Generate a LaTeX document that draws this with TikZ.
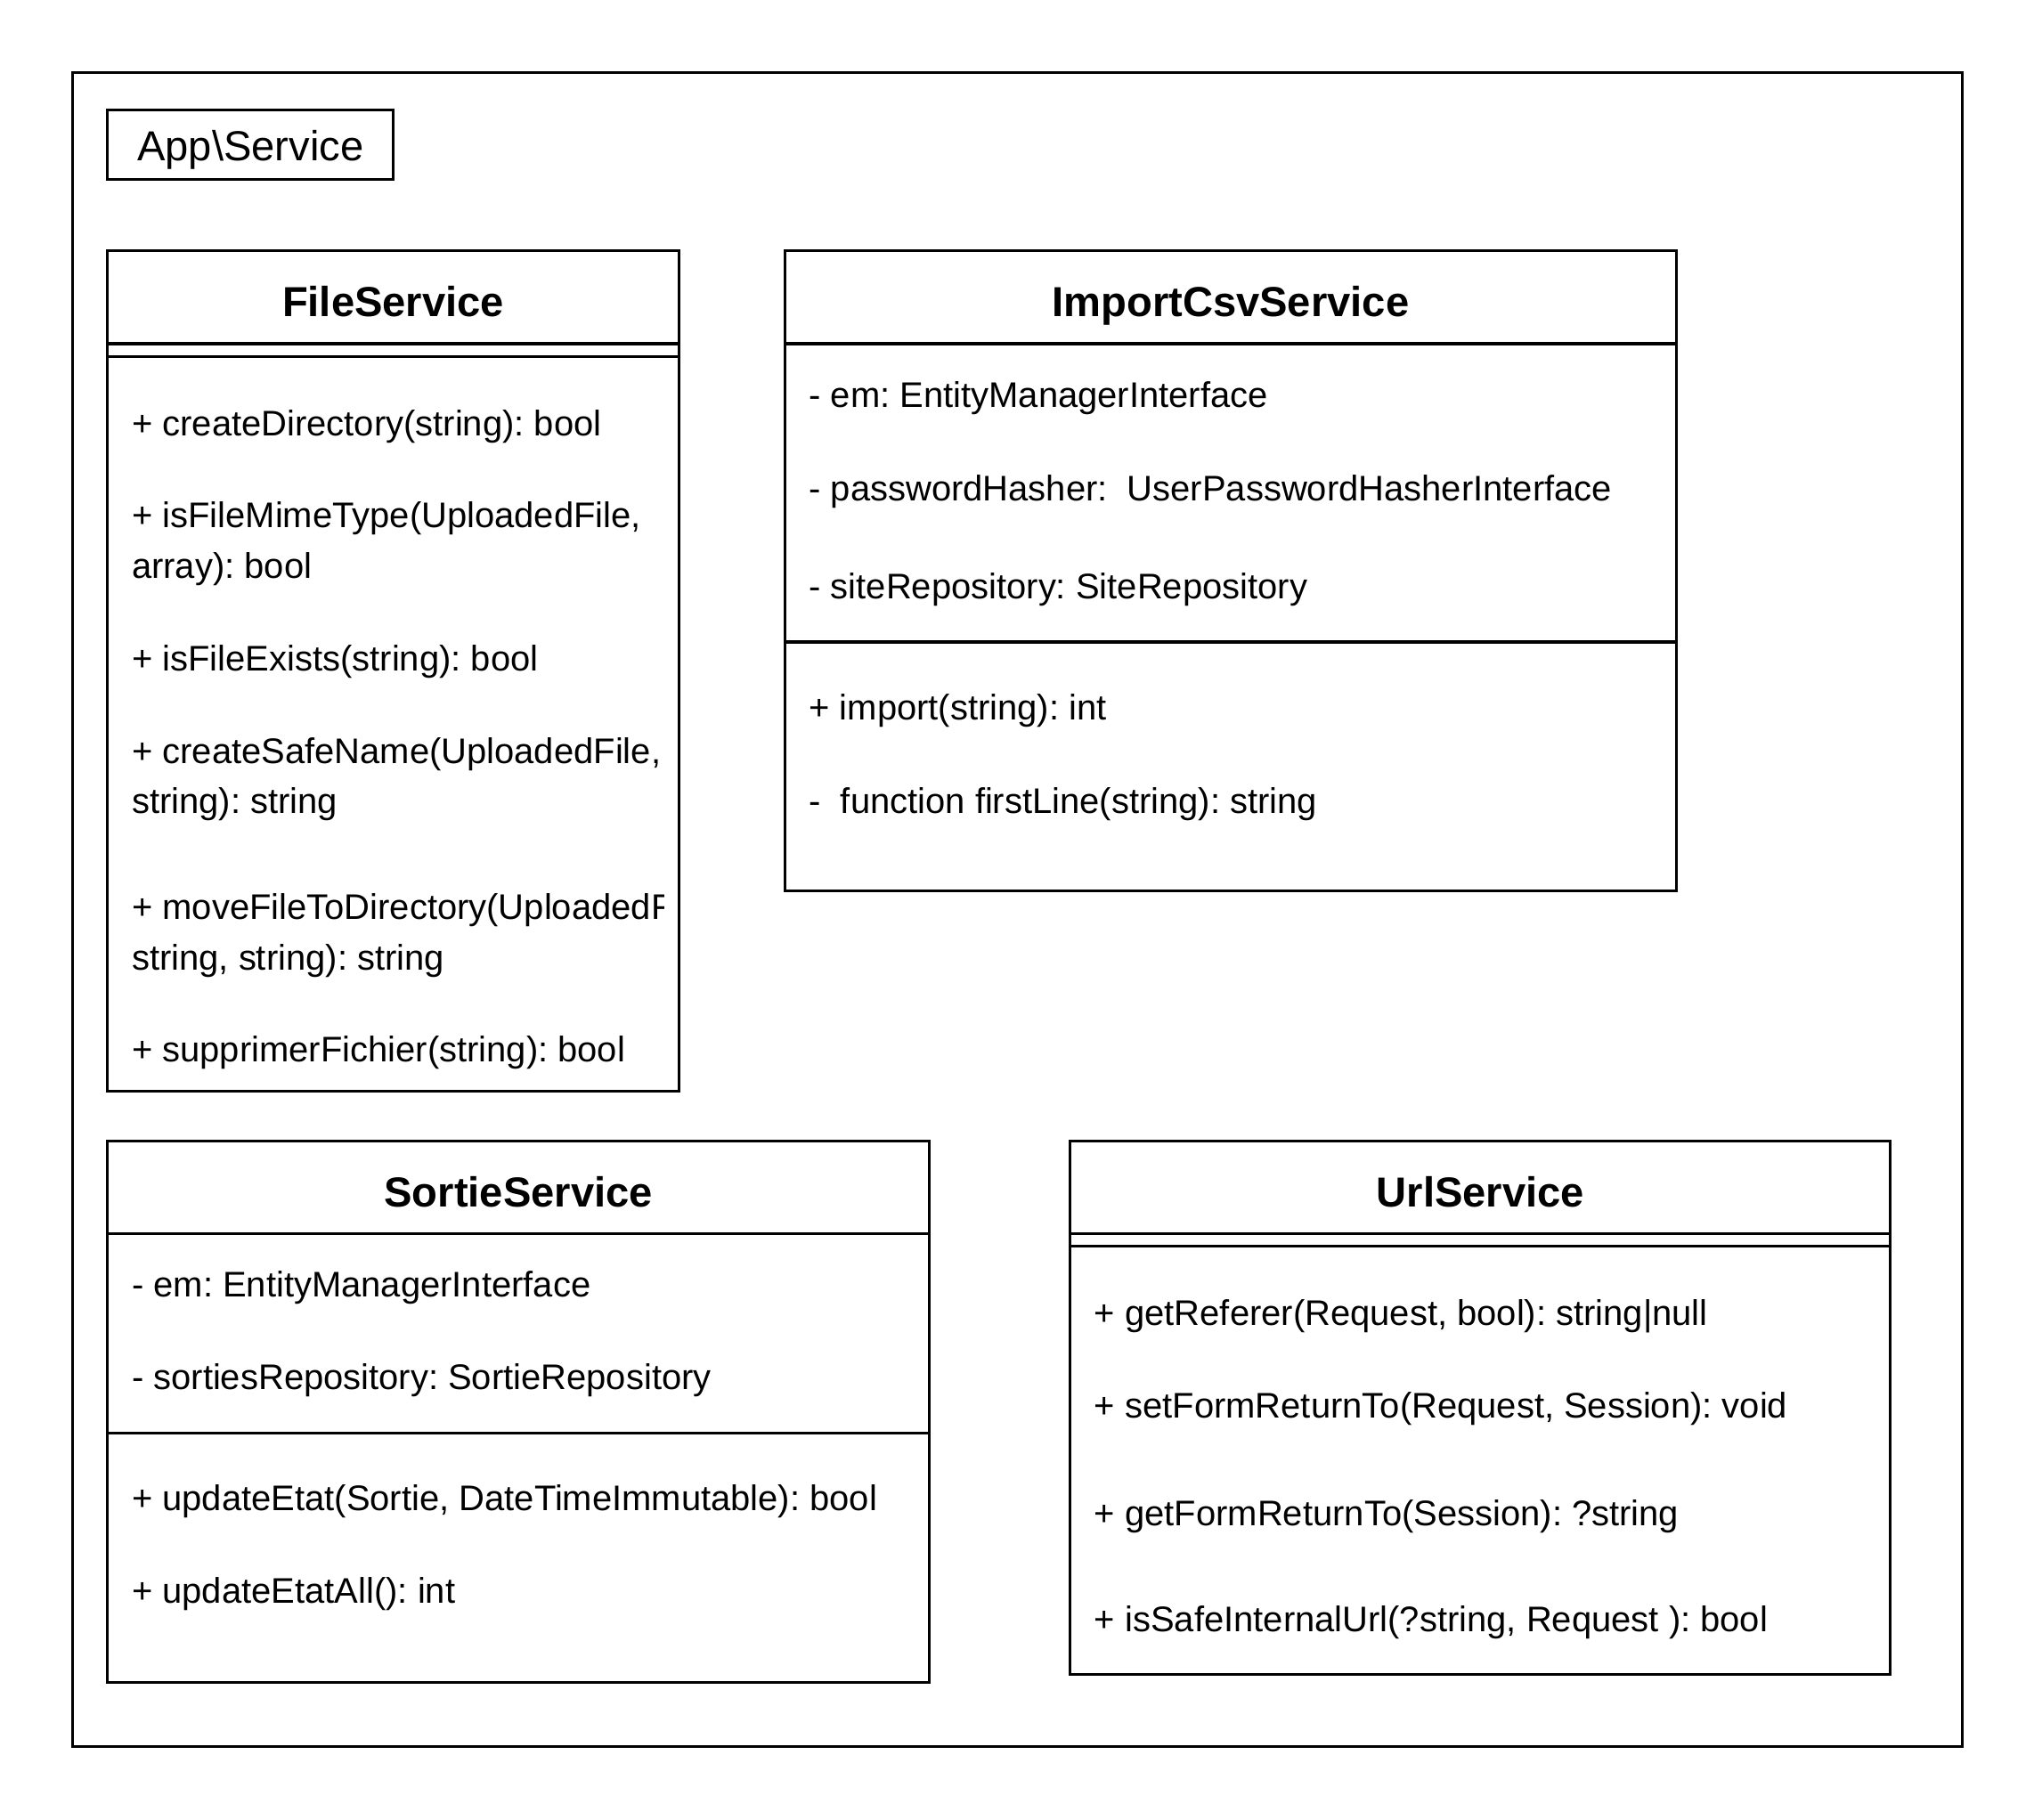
\documentclass[tikz,border=0pt]{standalone}
\usepackage{fontspec}
\setmainfont{Liberation Sans}
\frenchspacing
\usetikzlibrary{positioning}
\tikzset{
  box/.style={draw,line width=0.6pt,inner sep=0pt,outer sep=0pt,anchor=north west},
  clsname/.style={box,text height=0.85em,text depth=0pt,font=\fontsize{9.2}{11}\selectfont\bfseries},
  member/.style={anchor=base west,inner sep=0pt,font=\fontsize{7.8}{9}\selectfont}
}
\begin{document}
\begin{tikzpicture}[x=0.01cm,y=-0.01cm]
  \useasboundingbox (0,0) rectangle (1568,1403);
  \node (pkg) at (56,56) [box,minimum width=14.56cm,minimum height=12.90cm]{};
  \node (pkgname) at (83,85) [box,minimum width=2.20cm,minimum height=0.53cm,text height=0.72em,text depth=0pt,font=\fontsize{9.2}{11}\selectfont]{App\textbackslash Service};

  \node (fs) at (83,193) [clsname,minimum width=4.40cm,minimum height=0.72cm]{FileService};
  \node (fsattr) at (83,265) [box,minimum width=4.40cm,minimum height=0.10cm]{};
  \node (fsops) at (83,275) [box,minimum width=4.40cm,minimum height=5.66cm]{};
  \begin{scope}
    \clip (83,275) rectangle (512,841);
    \node (fs1) at (101,336) [member]{+ createDirectory(string): bool};
    \node (fs2) at (101,407) [member]{+ isFileMimeType(UploadedFile,};
    \node (fs2b) at (101,446) [member]{array): bool};
    \node (fs3) at (101,517) [member]{+ isFileExists(string): bool};
    \node (fs4) at (101,589) [member]{+ createSafeName(UploadedFile,};
    \node (fs4b) at (101,627) [member]{string): string};
    \node (fs5) at (101,709) [member]{+ moveFileToDirectory(UploadedFile,};
    \node (fs5b) at (101,748) [member]{string, string): string};
    \node (fs6) at (101,819) [member]{+ supprimerFichier(string): bool};
  \end{scope}

  \node (ics) at (605,193) [clsname,minimum width=6.87cm,minimum height=0.72cm]{ImportCsvService};
  \node (icsattr) at (605,265) [box,minimum width=6.87cm,minimum height=2.30cm]{};
  \node (icsops) at (605,495) [box,minimum width=6.87cm,minimum height=1.92cm]{};
  \node (ics1) at (623,314) [member]{- em: EntityManagerInterface};
  \node (ics2) at (623,386) [member]{- passwordHasher:\ \ UserPasswordHasherInterface};
  \node (ics3) at (623,462) [member]{- siteRepository: SiteRepository};
  \node (ics4) at (623,555) [member]{+ import(string): int};
  \node (ics5) at (623,627) [member]{-\ \ function firstLine(string): string};

  \node (ss) at (83,880) [clsname,minimum width=6.33cm,minimum height=0.71cm]{SortieService};
  \node (ssattr) at (83,951) [box,minimum width=6.33cm,minimum height=1.54cm]{};
  \node (ssops) at (83,1105) [box,minimum width=6.33cm,minimum height=1.92cm]{};
  \node (ss1) at (101,1000) [member]{- em: EntityManagerInterface};
  \node (ss2) at (101,1071) [member]{- sortiesRepository: SortieRepository};
  \node (ss3) at (101,1165) [member]{+ updateEtat(Sortie, DateTimeImmutable): bool};
  \node (ss4) at (101,1236) [member]{+ updateEtatAll(): int};

  \node (us) at (825,880) [clsname,minimum width=6.32cm,minimum height=0.71cm]{UrlService};
  \node (usattr) at (825,951) [box,minimum width=6.32cm,minimum height=0.10cm]{};
  \node (usops) at (825,961) [box,minimum width=6.32cm,minimum height=3.30cm]{};
  \node (us1) at (843,1022) [member]{+ getReferer(Request, bool): string|null};
  \node (us2) at (843,1093) [member]{+ setFormReturnTo(Request, Session): void};
  \node (us3) at (843,1176) [member]{+ getFormReturnTo(Session): ?string};
  \node (us4) at (843,1258) [member]{+ isSafeInternalUrl(?string, Request ): bool};
\end{tikzpicture}
\end{document}
